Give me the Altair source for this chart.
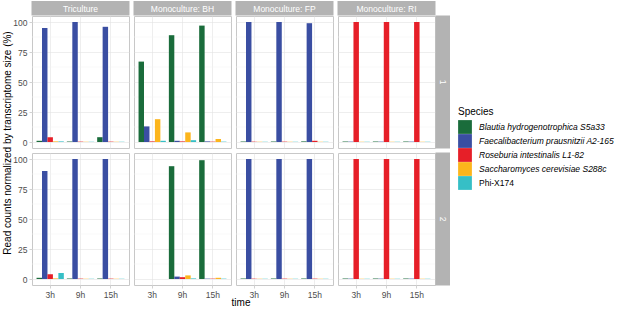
import altair as alt
import pandas as pd

cultures = ["Triculture", "Monoculture: BH", "Monoculture: FP", "Monoculture: RI"]
reps = ["1", "2"]
times = ["3h", "9h", "15h"]
species = [
    "Blautia hydrogenotrophica S5a33",
    "Faecalibacterium prausnitzii A2-165",
    "Roseburia intestinalis L1-82",
    "Saccharomyces cerevisiae S288c",
    "Phi-X174",
]
colors = ["#1a6c3b", "#3a4ea2", "#e61f28", "#fcb51c", "#36bfc6"]
y_ticks = [0, 25, 50, 75, 100]
y_minor = [12.5, 37.5, 62.5, 87.5]

# values per time (3h, 9h, 15h), each in species order
tri_rep1 = [[1, 95, 4, 0.5, 0.5], [0.4, 100, 0.3, 0.2, 0.2], [4, 96, 0.3, 0.2, 0.2]]
bh_rep1 = [[67, 13, 0.5, 19, 1], [89, 1, 0.5, 8, 1.5], [97, 0.5, 0.3, 2.5, 0.3]]
fp_rep1 = [[0.4, 100, 0.3, 0.2, 0.2], [0.4, 100, 0.3, 0.2, 0.2], [0.5, 99, 1, 0.2, 0.2]]
ri_rep1 = [[0.4, 0.3, 100, 0.2, 0.2], [0.4, 0.3, 100, 0.2, 0.2], [0.4, 0.3, 100, 0.2, 0.2]]
tri_rep2 = [[1, 90, 4, 0.5, 5], [0.4, 100, 0.3, 0.2, 0.2], [0.4, 100, 0.3, 0.2, 0.2]]
bh_rep2 = [None, [94, 2, 1.5, 3, 0.5], [99, 0.3, 0.3, 1, 0.3]]
fp_rep2 = [[0.4, 100, 0.3, 0.2, 0.2], [0.4, 100, 0.3, 0.2, 0.2], [0.4, 100, 0.3, 0.2, 0.2]]
ri_rep2 = [[0.4, 0.3, 100, 0.2, 0.2], [0.4, 0.3, 100, 0.2, 0.2], [0.4, 0.3, 100, 0.2, 0.2]]

table = {
    ("Triculture", "1"): tri_rep1,
    ("Monoculture: BH", "1"): bh_rep1,
    ("Monoculture: FP", "1"): fp_rep1,
    ("Monoculture: RI", "1"): ri_rep1,
    ("Triculture", "2"): tri_rep2,
    ("Monoculture: BH", "2"): bh_rep2,
    ("Monoculture: FP", "2"): fp_rep2,
    ("Monoculture: RI", "2"): ri_rep2,
}

rows = []
for (cult, rep), per_time in table.items():
    for t, vals in zip(times, per_time):
        if vals is None:
            continue
        for sp, v in zip(species, vals):
            rows.append({"culture": cult, "rep": rep, "time": t, "species": sp, "value": v})
df = pd.DataFrame(rows)

W, H = 97, 132
STRIP = "#b3b3b3"

y_scale = alt.Scale(domain=[-5, 105], nice=False, zero=False)
y_axis = alt.Axis(title=None, values=y_ticks, grid=True, labelOverlap=False)

minor = (
    alt.Chart()
    .transform_aggregate(n="count()", groupby=["culture", "rep"])
    .transform_calculate(m=str(y_minor))
    .transform_flatten(["m"])
    .mark_rule(color="#f0f0f0", strokeWidth=0.5)
    .encode(y=alt.Y("m:Q", scale=y_scale, axis=y_axis))
)

bars = alt.Chart().mark_bar().encode(
    x=alt.X(
        "time:N",
        sort=times,
        scale=alt.Scale(paddingInner=0.1, paddingOuter=0.15),
        axis=alt.Axis(title=None, labelAngle=0, grid=True, labelPadding=2),
    ),
    xOffset=alt.XOffset("species:N", sort=species, scale=alt.Scale(paddingInner=0, paddingOuter=0)),
    y=alt.Y("value:Q", scale=y_scale, axis=y_axis),
    color=alt.Color(
        "species:N",
        sort=species,
        scale=alt.Scale(domain=species, range=colors),
        legend=alt.Legend(
            title="Species",
            titleFontSize=10,
            titleFontWeight="normal",
            titleColor="black",
            titlePadding=3,
            labelFontSize=8.5,
            labelColor="black",
            labelFontStyle=alt.ExprRef("datum.value == 'Phi-X174' ? 'normal' : 'italic'"),
            symbolType="square",
            symbolSize=190,
            symbolStrokeWidth=0,
            symbolOpacity=1,
            rowPadding=0,
            labelOffset=7,
            orient="none",
            legendX=426,
            legendY=91,
        ),
    ),
)

col_strip = (
    alt.Chart()
    .transform_aggregate(n="count()", groupby=["culture", "rep"])
    .transform_filter("datum.rep == '1'")
)
col_rect = col_strip.mark_rect(color=STRIP, clip=False).encode(
    x=alt.value(-0.5), x2=alt.value(W + 0.5), y=alt.value(-15), y2=alt.value(-0.5)
)
col_text = col_strip.mark_text(color="white", fontSize=8.5, baseline="middle", align="center").encode(
    x=alt.value(W / 2), y=alt.value(-7.5), text="culture:N"
)

row_strip = (
    alt.Chart()
    .transform_aggregate(n="count()", groupby=["culture", "rep"])
    .transform_filter("datum.culture == 'Monoculture: RI'")
)
row_rect = row_strip.mark_rect(color=STRIP, clip=False).encode(
    x=alt.value(W + 0.5), x2=alt.value(W + 15), y=alt.value(-0.5), y2=alt.value(H + 0.5)
)
row_text = row_strip.mark_text(color="white", fontSize=8.5, baseline="middle", align="center", angle=90).encode(
    x=alt.value(W + 8), y=alt.value(H / 2), text="rep:N"
)

chart = (
    alt.layer(minor, bars, col_rect, col_text, row_rect, row_text, data=df)
    .properties(width=W, height=H)
    .facet(
        row=alt.Row(
            "rep:N",
            sort=reps,
            header=alt.Header(
                labels=False,
                title="Read counts normalized by transcriptome size (%)",
                titleOrient="left",
                titleFontSize=10,
                titleFontWeight="normal",
                titleColor="black",
                titlePadding=-11,
            ),
        ),
        column=alt.Column(
            "culture:N",
            sort=cultures,
            header=alt.Header(
                labels=False,
                title="time",
                titleOrient="bottom",
                titleFontSize=10,
                titleFontWeight="normal",
                titleColor="black",
                titlePadding=-11,
            ),
        ),
        spacing={"row": 5, "column": 5},
        bounds="flush",
    )
    .properties(padding={"left": 2, "top": 0, "right": 0, "bottom": 0})
    .configure(font="Liberation Sans")
    .configure_view(stroke="#c8c8c8", strokeWidth=1)
    .configure_axis(
        domain=False,
        gridColor="#e3e3e3",
        gridWidth=0.6,
        tickColor="#b3b3b3",
        tickSize=3,
        tickWidth=0.6,
        labelColor="#4d4d4d",
        labelFontSize=8.5,
        labelPadding=2,
    )
)

chart.save("out.html", embed_options={"renderer": "svg", "actions": False})
